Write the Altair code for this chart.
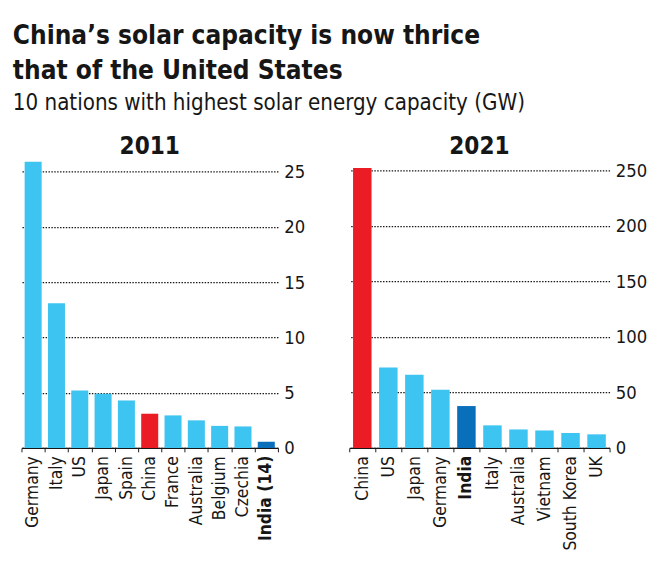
import altair as alt
import pandas as pd

# ---- data ----
countries_2011 = ["Germany", "Italy", "US", "Japan", "Spain", "China", "France",
                  "Australia", "Belgium", "Czechia", "India (14)"]
values_2011 = [25.9, 13.1, 5.2, 4.9, 4.3, 3.1, 2.95, 2.5, 2.0, 1.95, 0.56]

countries_2021 = ["China", "US", "Japan", "Germany", "India", "Italy", "Australia",
                  "Vietnam", "South Korea", "UK"]
values_2021 = [252.5, 72.5, 66.0, 52.6, 37.8, 20.4, 16.7, 15.8, 13.5, 12.3]

ticks_2011 = [0, 5, 10, 15, 20, 25]
ticks_2021 = [0, 50, 100, 150, 200, 250]

title_lines = ["China\u2019s solar capacity is now thrice", "that of the United States"]
subtitle_text = "10 nations with highest solar energy capacity (GW)"
india_names = ["India", "India (14)"]

FONT = "DejaVu Sans Condensed, Roboto, sans-serif"
INK = "#161616"
kinds = ["china", "india", "other"]
kind_colors = ["#EC1C24", "#0A6FBA", "#3EC4F0"]

XLABEL_SIZE = 18
YLABEL_SIZE = 19
TICK = 4
LABEL_PAD = 4


def kind_of(c):
    if c == "China":
        return "china"
    if c in india_names:
        return "india"
    return "other"


def panel(countries, values, year, ymax, ticks, width, height, bar_frac):
    df = pd.DataFrame({
        "country": countries,
        "value": values,
        "kind": [kind_of(c) for c in countries],
    })
    base = alt.Chart(df)
    xenc = alt.X(
        "country:N", sort=countries, title=None,
        scale=alt.Scale(paddingInner=0, paddingOuter=0),
        axis=alt.Axis(
            labelAngle=-90, labelFontSize=XLABEL_SIZE, labelColor=INK, labelPadding=LABEL_PAD,
            tickSize=TICK, tickColor=INK, tickWidth=1, tickBand="extent",
            domain=True, domainColor=INK, domainWidth=1.3,
            labelExpr="datum.value == 'India' || datum.value == 'India (14)' ? '' : datum.label",
        ),
    )
    bars = base.mark_bar(width=alt.RelativeBandSize(bar_frac)).encode(
        x=xenc,
        y=alt.Y(
            "value:Q", title=None,
            scale=alt.Scale(domain=[0, ymax], nice=False, zero=True),
            axis=alt.Axis(
                orient="right", values=ticks, grid=True, ticks=False, domain=False,
                labelFontSize=YLABEL_SIZE, labelPadding=6, labelColor=INK,
                gridDash=[1.5, 1.5], gridColor=INK, gridWidth=1.3,
            ),
        ),
        color=alt.Color("kind:N", scale=alt.Scale(domain=kinds, range=kind_colors), legend=None),
    )
    # bold label for India, drawn where the axis label would be
    india = base.transform_filter(
        alt.FieldOneOfPredicate(field="country", oneOf=india_names)
    ).mark_text(
        angle=270, align="right", baseline="middle", fontSize=XLABEL_SIZE,
        fontWeight="bold", color=INK,
    ).encode(
        x=alt.X("country:N", sort=countries),
        y=alt.value(height + TICK + LABEL_PAD),
        text="country:N",
    )
    return alt.layer(bars, india).properties(
        width=width, height=height,
        title=alt.Title(year, fontSize=25, fontWeight="bold", offset=2,
                        color=INK, anchor="middle"),
    )


left = panel(countries_2011, values_2011, "2011", 26, ticks_2011, 266, 298, 0.73)
right = panel(countries_2021, values_2021, "2021", 259, ticks_2021, 270, 298, 0.71)

chart = alt.hconcat(left, right, spacing=37).properties(
    title=alt.Title(
        title_lines, subtitle=subtitle_text, anchor="start",
        fontSize=27, fontWeight="bold", lineHeight=36, color=INK,
        subtitleFontSize=23, subtitleColor=INK, subtitlePadding=8, offset=20,
    ),
).configure(font=FONT).configure_view(stroke=None)

chart.save("out.html", embed_options={"renderer": "svg", "actions": False})
